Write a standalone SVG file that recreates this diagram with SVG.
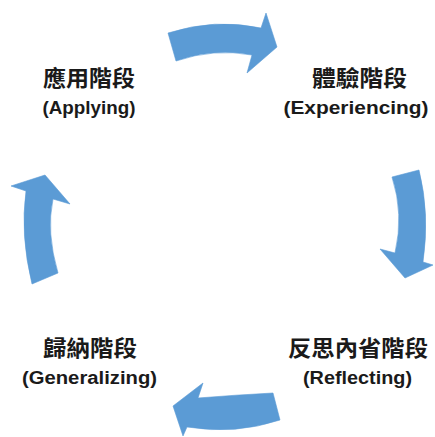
<svg xmlns="http://www.w3.org/2000/svg" width="435" height="437" viewBox="0 0 435 437">
<style>
.arr{fill:#5B9BD5;stroke:#5B9BD5;stroke-width:0.6;stroke-linejoin:miter}
.zh{font-family:"Noto Sans CJK TC","Noto Sans CJK SC",sans-serif;font-size:22px;font-weight:bold;fill:#1a1a1a;text-anchor:middle}
.en{font-family:"Liberation Sans",Arial,sans-serif;font-weight:bold;font-size:18px;fill:#1a1a1a;text-anchor:middle}
</style>
<rect width="435" height="437" fill="#ffffff"/>
<g id="connectors">
<path id="arrow-top" class="arr" d="M168,33 Q215,18 261,28 L266,13 L277,47 L247,73 L252,55 Q214,48 176,61 Z"/>
<path id="arrow-right" class="arr" d="M419,170 Q430,214 423,262 L433,265 L405,278 L380,249 L395,253 Q404,214 392,177 Z"/>
<path id="arrow-bottom" class="arr" d="M273,393 Q235,395 198,398 L203,383 L173,406 L183,436 L187,427 Q235,435 280,420 Z"/>
<path id="arrow-left" class="arr" d="M32,284 Q20,235 26,191 L11,186 L45,175 L70,204 L53,199 Q46,232 58,273 Z"/>
</g>
<g id="applying">
<text class="zh" x="89" y="86" textLength="92" lengthAdjust="spacingAndGlyphs">應用階段</text>
<text class="en" x="89" y="114" textLength="93" lengthAdjust="spacingAndGlyphs">(Applying)</text>
</g>
<g id="experiencing">
<text class="zh" x="359.5" y="86" textLength="95" lengthAdjust="spacingAndGlyphs">體驗階段</text>
<text class="en" x="356" y="114" textLength="145" lengthAdjust="spacingAndGlyphs">(Experiencing)</text>
</g>
<g id="generalizing">
<text class="zh" x="90" y="356" textLength="94" lengthAdjust="spacingAndGlyphs">歸納階段</text>
<text class="en" x="89.5" y="384" textLength="135" lengthAdjust="spacingAndGlyphs">(Generalizing)</text>
</g>
<g id="reflecting">
<text class="zh" x="358" y="356" textLength="140" lengthAdjust="spacingAndGlyphs">反思內省階段</text>
<text class="en" x="357.5" y="384" textLength="109" lengthAdjust="spacingAndGlyphs">(Reflecting)</text>
</g>
</svg>
